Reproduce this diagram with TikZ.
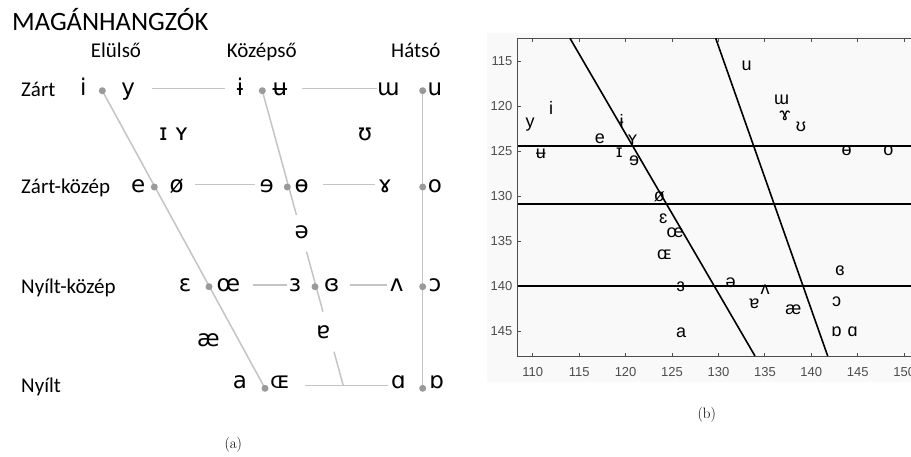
\documentclass[tikz,border=0pt]{standalone}
\usepackage{fontspec}
\newfontfamily\calfont{Carlito}
\newfontfamily\ipafont{DejaVu Sans}
\newfontfamily\arialfont{Liberation Sans}
\usetikzlibrary{calc}
\definecolor{linegray}{HTML}{C4C4C4}
\definecolor{dotgray}{HTML}{9A9A9A}
\definecolor{axisgray}{HTML}{4D4D4D}
\definecolor{panelgray}{HTML}{F9F9F9}
\begin{document}
\begin{tikzpicture}[x=1pt,y=-1pt,
  ipa/.style={font=\ipafont\fontsize{23}{23}\selectfont, anchor=base, inner sep=0pt},
  lbl/.style={font=\calfont\fontsize{21}{21}\selectfont, anchor=base west, inner sep=0pt},
  hdr/.style={font=\calfont\fontsize{21}{21}\selectfont, anchor=base, inner sep=0pt},
  gline/.style={draw=linegray, line width=1.5pt},
  gdot/.style={fill=dotgray, circle, inner sep=0pt, minimum size=7pt},
  rip/.style={font=\arialfont\fontsize{18}{18}\selectfont, inner sep=0pt},
  axisline/.style={draw=axisgray, line width=1pt},
  ticklbl/.style={font=\arialfont\fontsize{13}{13}\selectfont, text=axisgray, inner sep=0pt},
  bline/.style={draw=black, line width=1.6pt},
  capt/.style={font=\fontsize{15}{15}\selectfont, inner sep=0pt}]
\useasboundingbox (0,0) rectangle (911,456);

% ================= (a) =================
\node[font=\calfont\fontsize{26.5}{26.5}\selectfont, anchor=base west, inner sep=0pt] (title) at (12,30.7) {MAGÁNHANGZÓK};
\node[hdr] (hfront) at (116,57.3) {Elülső};
\node[hdr] (hcent) at (261.7,57.3) {Középső};
\node[hdr] (hback) at (415.8,57.3) {Hátsó};

\node[lbl] (rclose) at (21,96.7) {Zárt};
\node[lbl] (rcmid) at (21,193.3) {Zárt-közép};
\node[lbl] (romid) at (21,293.3) {Nyílt-közép};
\node[lbl] (ropen) at (21,392.7) {Nyílt};

% dot coordinates
\coordinate (d1) at (102.3,90.7);
\coordinate (d2) at (262.3,90.7);
\coordinate (d3) at (422.7,90.7);
\coordinate (d4) at (154.3,187);
\coordinate (d5) at (287.3,187);
\coordinate (d6) at (422.7,187);
\coordinate (d7) at (209,286.7);
\coordinate (d8) at (315,286.7);
\coordinate (d9) at (422.7,286.7);
\coordinate (d10) at (265,388.3);
\coordinate (d11) at (422.7,388.3);
\coordinate (cend) at (343.3,385.7);

% horizontal segments
\coordinate (h1a) at (151.7,88.3); \coordinate (h1b) at (225,88.3);
\coordinate (h2a) at (301.7,88.3); \coordinate (h2b) at (376.7,88.3);
\coordinate (h3a) at (195,184.3); \coordinate (h3b) at (255,184.3);
\coordinate (h4a) at (323.3,184.3); \coordinate (h4b) at (375,184.3);
\coordinate (h5a) at (253.3,285); \coordinate (h5b) at (286.7,285);
\coordinate (h6a) at (350,285); \coordinate (h6b) at (386.7,285);
\coordinate (h7a) at (305,385.7); \coordinate (h7b) at (388.3,385.7);

\draw[gline] (h1a) -- (h1b);
\draw[gline] (h2a) -- (h2b);
\draw[gline] (h3a) -- (h3b);
\draw[gline] (h4a) -- (h4b);
\draw[gline] (h5a) -- (h5b);
\draw[gline] (h6a) -- (h6b);
\draw[gline] (h7a) -- (h7b);

% slanted / vertical lines
\draw[gline] (d1) -- (d10);
\draw[gline] (d3) -- (d11);
\draw[gline] (d2) -- ($(d2)!0.4214!(cend)$);
\draw[gline] ($(d2)!0.5458!(cend)$) -- ($(d2)!0.7492!(cend)$);
\draw[gline] ($(d2)!0.8847!(cend)$) -- (cend);

% dots
\foreach \d in {d1,d2,d3,d4,d5,d6,d7,d8,d9,d10,d11}
  \node[gdot] (n\d) at (\d) {};

% vowels
\node[ipa] (vi) at (83.3,95) {i};
\node[ipa] (vy) at (128.3,95) {y};
\node[ipa] (vib) at (240,95) {ɨ};
\node[ipa] (vub) at (280,95) {ʉ};
\node[ipa] (vuu) at (388.3,95) {ɯ};
\node[ipa] (vu) at (435,95) {u};

\node[ipa] (vI) at (163.3,140) {ɪ};
\node[ipa] (vY) at (181.7,140) {ʏ};
\node[ipa] (vU) at (365,140) {ʊ};

\node[ipa] (ve) at (138.3,192) {e};
\node[ipa] (vo2) at (176.7,192) {ø};
\node[ipa] (vre) at (266.7,192) {ɘ};
\node[ipa] (vob) at (301.7,192) {ɵ};
\node[ipa] (vgam) at (385,192) {ɤ};
\node[ipa] (vo) at (435,192) {o};

\node[ipa] (vschwa) at (301.7,238.3) {ə};

\node[ipa] (veps) at (185,291.7) {ɛ};
\node[ipa] (voe) at (228.3,291.7) {œ};
\node[ipa] (vreps) at (295,291.7) {ɜ};
\node[ipa] (vceps) at (331.7,291.7) {ɞ};
\node[ipa] (vwedge) at (396.7,291.7) {ʌ};
\node[ipa] (vopeno) at (435,291.7) {ɔ};

\node[ipa] (vae) at (208.3,346) {æ};
\node[ipa] (vturna) at (323.3,338.3) {ɐ};

\node[ipa] (va) at (240,388.3) {a};
\node[ipa] (vOE) at (280,388.3) {ɶ};
\node[ipa] (vscripta) at (398.3,388.3) {ɑ};
\node[ipa] (vturnsa) at (436.7,388.3) {ɒ};

\node[capt] (capa) at (233.3,445) {(a)};

% ================= (b) =================
\fill[panelgray] (487,33) rectangle (915,382);

\coordinate (tl) at (517.7,38.3);
\coordinate (bl) at (517.7,356);
\coordinate (tr) at (915,38.3);
\coordinate (br) at (915,356);
\draw[axisline] (tr) -- (tl) -- (bl) -- (br);

\foreach \v/\px in {110/532.7,115/579.2,120/625.6,125/672.0,130/718.5,135/764.9,140/811.3,145/857.8,150/904.2}{
  \draw[axisline] (\px,356) -- (\px,352.5);
  \draw[axisline] (\px,38.3) -- (\px,41.8);
  \node[ticklbl] (xt\v) at (\px,371.7) {\v};
}
\foreach \v/\py in {115/61,120/106,125/151,130/196,135/241,140/286,145/331}{
  \draw[axisline] (517.7,\py) -- (521.2,\py);
  \node[ticklbl, anchor=east] (yt\v) at (512.5,\py) {\v};
}

\coordinate (ha1) at (517.7,145.7); \coordinate (hb1) at (915,145.7);
\coordinate (ha2) at (517.7,204); \coordinate (hb2) at (915,204);
\coordinate (ha3) at (517.7,285.7); \coordinate (hb3) at (915,285.7);
\draw[bline] (ha1) -- (hb1);
\draw[bline] (ha2) -- (hb2);
\draw[bline] (ha3) -- (hb3);
\coordinate (sa1) at (570,38.3); \coordinate (sb1) at (755,356);
\coordinate (sa2) at (715.7,38.3); \coordinate (sb2) at (827.7,356);
\draw[bline] (sa1) -- (sb1);
\draw[bline] (sa2) -- (sb2);

\node[rip] (pu) at (746.7,65.7) {u};
\node[rip] (pi) at (551,107.5) {i};
\node[rip] (py) at (530,125) {y};
\node[rip] (pub) at (541,154) {ʉ};
\node[rip] (pe) at (600,139) {e};
\node[rip] (pI) at (619.3,153) {ɪ};
\node[rip] (pib) at (621.7,120.5) {ɨ};
\node[rip] (pY) at (632.5,139.5) {ʏ};
\node[rip] (pre) at (634,161) {ɘ};
\node[rip] (po2) at (659.3,196.5) {ø};
\node[rip] (peps) at (663.3,218.3) {ɛ};
\node[rip] (poe) at (675,232.5) {œ};
\node[rip] (pOE) at (664.3,254.5) {ɶ};
\node[rip] (preps) at (680.7,286.7) {ɜ};
\node[rip] (pschwa) at (730.5,282.7) {ə};
\node[rip] (pwedge) at (765,289.5) {ʌ};
\node[rip] (pturna) at (754.3,303.3) {ɐ};
\node[rip] (pae) at (793.3,309.3) {æ};
\node[rip] (pa) at (681,333) {a};
\node[rip] (pceps) at (840,270.7) {ɞ};
\node[rip] (popeno) at (836.7,301.7) {ɔ};
\node[rip] (pturnsa) at (836.7,331.7) {ɒ};
\node[rip] (pscripta) at (852.7,331.7) {ɑ};
\node[rip] (puu) at (781.5,99.5) {ɯ};
\node[rip] (pgam) at (785,116) {ɤ};
\node[rip] (pU) at (801,126.7) {ʊ};
\node[rip] (pob) at (846.7,150.7) {ɵ};
\node[rip] (po) at (888.3,150.7) {o};

\node[capt] (capb) at (706.7,415) {(b)};
\end{tikzpicture}
\end{document}
